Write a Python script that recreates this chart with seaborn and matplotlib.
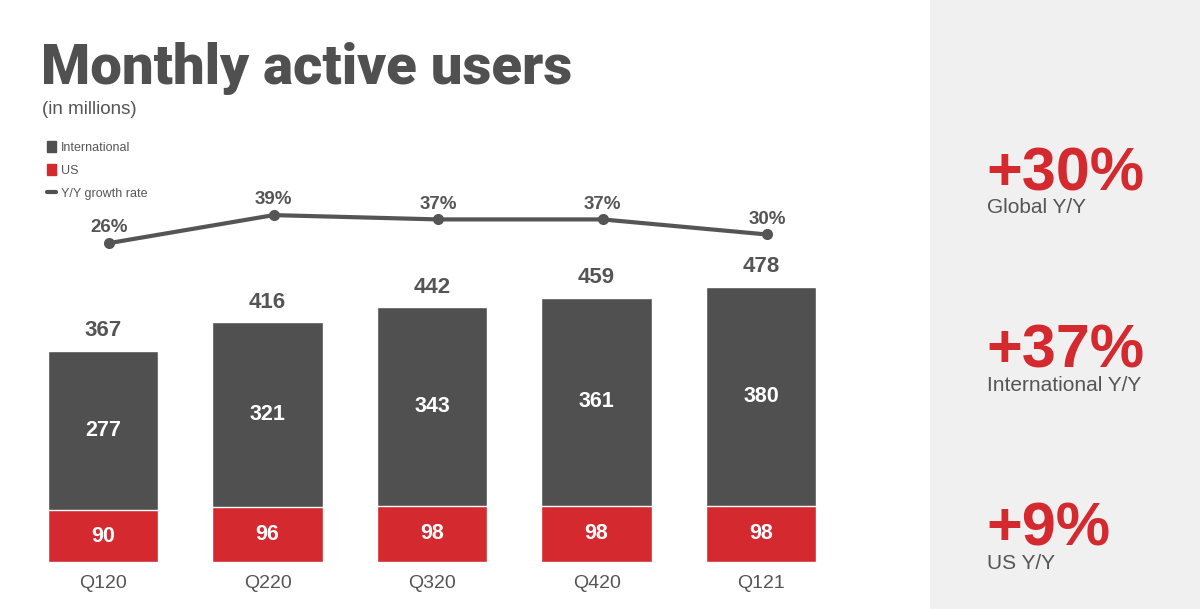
import pandas as pd
import seaborn as sns
import matplotlib.pyplot as plt
from matplotlib.patches import Rectangle
from matplotlib.lines import Line2D

quarters = ['Q120', 'Q220', 'Q320', 'Q420', 'Q121']
international = [277, 321, 343, 361, 380]
us = [90, 96, 98, 98, 98]
totals = [367, 416, 442, 459, 478]
growth = [26, 39, 37, 37, 30]

kpi_values = ['+30%', '+37%', '+9%']
kpi_labels = ['Global Y/Y', 'International Y/Y', 'US Y/Y']

GRAY = '#505050'
RED = '#d3292f'
TXT = '#555555'

sns.set_style('white')
plt.rcParams['font.family'] = ['Liberation Sans', 'DejaVu Sans']

df = pd.DataFrame({'quarter': quarters, 'intl': international, 'us': us,
                   'total': totals, 'growth': growth})

W, H = 1200, 609
fig = plt.figure(figsize=(12, 6.09), dpi=100)
fig.patch.set_facecolor('white')

# right grey panel
fig.patches.append(Rectangle((930 / W, 0), 270 / W, 1, transform=fig.transFigure,
                             facecolor='#f0f0f0', edgecolor='none', zorder=0))

def px(x0, y0, x1, y1):
    return [x0 / W, 1 - y1 / H, (x1 - x0) / W, (y1 - y0) / H]

XLIM = (-0.505, 4.966)

ax = fig.add_axes(px(20, 130, 920, 562))
ax.set_facecolor('none')
sns.barplot(data=df, x='quarter', y='total', order=quarters, color=GRAY,
            saturation=1, width=0.67, ax=ax)
sns.barplot(data=df, x='quarter', y='us', order=quarters, color=RED,
            saturation=1, width=0.67, ax=ax)
ax.set_xlim(*XLIM)
ax.set_ylim(0, 750)
for i, q in enumerate(quarters):
    ax.text(i, totals[i] + 16, str(totals[i]), ha='center', va='bottom',
            fontsize=16, fontweight='bold', color=TXT)
    ax.text(i, us[i] + (totals[i] - us[i]) / 2, str(international[i]), ha='center',
            va='center', fontsize=15.5, fontweight='bold', color='white')
    ax.text(i, us[i] / 2, str(us[i]), ha='center', va='center',
            fontsize=15.5, fontweight='bold', color='white')
ax.set_xlabel('')
ax.set_ylabel('')
ax.set_yticks([])
ax.tick_params(axis='x', length=0, labelsize=14, labelcolor=TXT, pad=9)
sns.despine(ax=ax, left=True, bottom=True)

# growth line on its own overlay axes (slightly offset like the slide)
ax2 = fig.add_axes(px(26, 130, 926, 562))
ax2.set_facecolor('none')
sns.lineplot(data=df, x='quarter', y='growth', color=TXT, linewidth=3,
             marker='o', markersize=8, markeredgewidth=0, ax=ax2)
ax2.set_xlim(*XLIM)
ax2.set_ylim(-122, 78.5)
for i, g in enumerate(growth):
    ax2.text(i, g + 3.2, f'{g}%', ha='center', va='bottom', fontsize=13.5,
             fontweight='bold', color=TXT)
ax2.set_xticks([])
ax2.set_yticks([])
ax2.set_ylabel('')
ax2.set_xlabel('')
sns.despine(ax=ax2, left=True, bottom=True)

# title
fig.text(41 / W, 1 - 84 / H, 'Monthly active users', fontsize=40.5, fontweight='black',
         color=GRAY, ha='left', va='baseline', family=['Roboto', 'DejaVu Sans'])
fig.text(42 / W, 1 - 110 / H, '(in millions)', fontsize=13.5, color=TXT,
         ha='left', va='center')

# legend
handles = [Rectangle((0, 0), 1, 1, color=GRAY), Rectangle((0, 0), 1, 1, color=RED),
           Line2D([0], [0], color=GRAY, linewidth=3)]
fig.legend(handles, ['International', 'US', 'Y/Y growth rate'], loc='upper left',
           bbox_to_anchor=(36 / W, 1 - 130 / H), frameon=False, fontsize=9,
           handlelength=0.7, handleheight=0.9, handletextpad=0.4, labelspacing=0.85,
           labelcolor=TXT)

# right panel KPIs
kpi_y = [190, 368, 546]
for v, lab, y in zip(kpi_values, kpi_labels, kpi_y):
    fig.text(986 / W, 1 - y / H, v, fontsize=44, fontweight='bold', color=RED,
             ha='left', va='baseline')
    fig.text(987 / W, 1 - (y + 23) / H, lab, fontsize=15, color=TXT,
             ha='left', va='baseline')

fig.savefig('out.png', dpi=100)
